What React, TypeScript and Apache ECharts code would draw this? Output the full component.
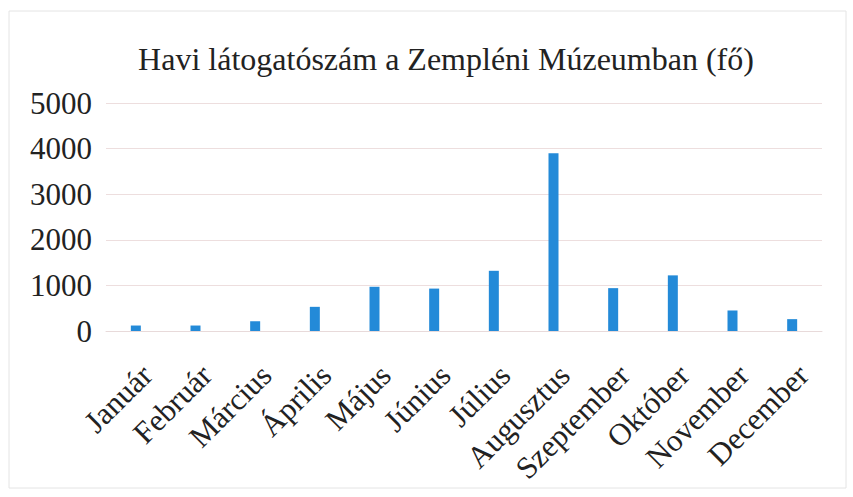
import React, { useEffect, useRef } from "react";
import * as echarts from "echarts";

const title = "Havi látogatószám a Zempléni Múzeumban (fő)";
const months = ["Január", "Február", "Március", "Április", "Május", "Június", "Július", "Augusztus", "Szeptember", "Október", "November", "December"];
const visitors = [120, 120, 215, 530, 970, 930, 1320, 3900, 940, 1220, 450, 260];
const yTicks = { min: 0, max: 5000, interval: 1000 };

export default function App() {
  const ref = useRef<HTMLDivElement>(null);
  useEffect(() => {
    if (!ref.current) return;
    const chart = echarts.init(ref.current, undefined, { renderer: "svg" });
    chart.setOption({
      animation: false,
      backgroundColor: "#ffffff",
      title: {
        text: title,
        left: 441,
        textAlign: "center",
        top: 38,
        textStyle: { fontFamily: "Liberation Serif", fontSize: 32, fontWeight: "normal", color: "#222" },
      },
      graphic: [
        { type: "rect", shape: { x: 9, y: 11, width: 837, height: 477 }, style: { fill: "none", stroke: "#e4e4e4", lineWidth: 1 } },
      ],
      grid: { left: 106, right: 31, top: 103, bottom: 166 },
      xAxis: {
        type: "category",
        data: months,
        axisLine: { lineStyle: { color: "#e8dada" } },
        axisTick: { show: false },
        axisLabel: {
          rotate: 45,
          interval: 0,
          margin: 28,
          verticalAlign: "top",
          fontFamily: "Liberation Serif",
          fontSize: 31,
          color: "#222",
        },
      },
      yAxis: {
        type: "value",
        min: yTicks.min,
        max: yTicks.max,
        interval: yTicks.interval,
        axisLine: { show: false },
        axisTick: { show: false },
        splitLine: { lineStyle: { color: "#eddede" } },
        axisLabel: {
          fontFamily: "Liberation Serif",
          fontSize: 31,
          color: "#222",
          margin: 14,
          formatter: (v: number) => String(v),
        },
      },
      series: [
        {
          type: "bar",
          data: visitors,
          barWidth: 10,
          itemStyle: { color: "#238ad8" },
        },
      ],
    });
    return () => chart.dispose();
  }, []);
  return <div ref={ref} style={{ position: "fixed", left: 0, top: 0, width: 853, height: 497 }} />;
}
